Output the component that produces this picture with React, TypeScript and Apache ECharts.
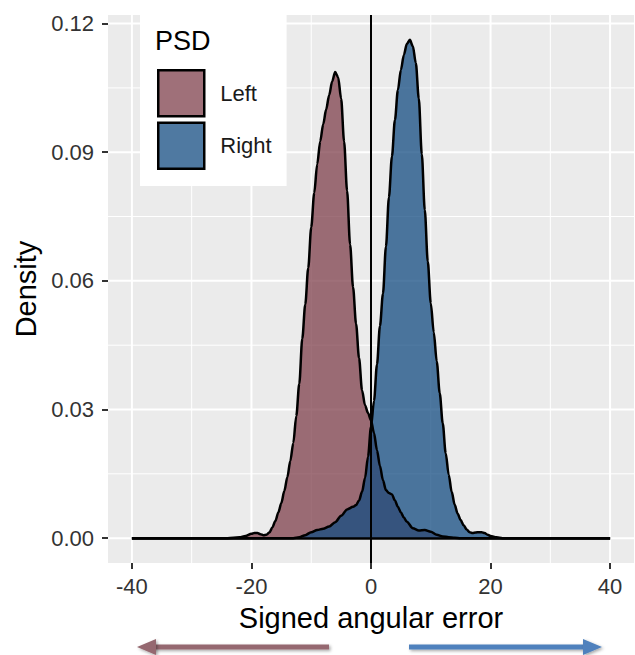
import React, { useEffect, useRef } from 'react';
import * as echarts from 'echarts';

// ---- data ----
const leftX = [-40, -24, -22, -21, -20, -19.5, -19, -18.5, -18, -17.5, -17, -16.5, -16, -15.5, -15, -14.5, -14, -13.5, -13, -12.5, -12, -11.5, -11, -10.5, -10, -9.5, -9, -8.5, -8, -7.5, -7, -6.5, -6, -5.5, -5, -4.5, -4, -3.5, -3, -2.5, -2, -1.5, -1, -0.5, 0, 0.5, 1, 1.5, 2, 2.5, 3, 3.5, 4, 4.5, 5, 5.5, 6, 7, 8, 9, 10, 11, 12, 13, 14, 15, 40];
const leftY = [0, 0, 0.0002, 0.0005, 0.001, 0.0012, 0.0012, 0.0009, 0.0007, 0.0008, 0.0013, 0.0025, 0.004, 0.006, 0.0082, 0.011, 0.0142, 0.018, 0.0222, 0.0285, 0.036, 0.0465, 0.0545, 0.063, 0.0725, 0.0805, 0.0872, 0.0925, 0.0965, 0.1, 0.1033, 0.1065, 0.1087, 0.1075, 0.1025, 0.0925, 0.081, 0.0685, 0.0585, 0.05, 0.042, 0.0345, 0.031, 0.0292, 0.0275, 0.0245, 0.0205, 0.0168, 0.0135, 0.0112, 0.0105, 0.0102, 0.0088, 0.0073, 0.006, 0.0048, 0.0038, 0.0023, 0.0018, 0.0019, 0.0015, 0.0008, 0.0004, 0.0002, 0.0001, 0, 0];

const rightX = [-40, -13, -12, -11, -10, -9, -8, -7, -6, -5, -4, -3, -2.5, -2, -1.5, -1, -0.5, 0, 0.5, 1, 1.5, 2, 2.5, 3, 3.5, 4, 4.5, 5, 5.5, 6, 6.5, 7, 7.5, 8, 8.5, 9, 9.5, 10, 10.5, 11, 11.5, 12, 12.5, 13, 13.5, 14, 14.5, 15, 15.5, 16, 16.5, 17, 17.5, 18, 18.5, 19, 19.5, 20, 21, 22, 40];
const rightY = [0, 0, 0.0002, 0.0007, 0.0014, 0.0019, 0.0022, 0.0027, 0.0037, 0.0052, 0.0067, 0.0073, 0.0077, 0.0088, 0.0108, 0.014, 0.019, 0.026, 0.032, 0.0405, 0.0495, 0.057, 0.068, 0.0795, 0.089, 0.0975, 0.1045, 0.1092, 0.1127, 0.1153, 0.1162, 0.1147, 0.1108, 0.1025, 0.0895, 0.0765, 0.0645, 0.0548, 0.048, 0.0412, 0.0338, 0.0268, 0.0198, 0.0148, 0.0108, 0.0078, 0.0057, 0.0042, 0.003, 0.002, 0.0014, 0.0012, 0.0013, 0.0014, 0.0014, 0.0012, 0.0008, 0.0005, 0.0002, 0, 0];

const seriesNames = ['Left', 'Right'];
const legendTitle = 'PSD';
const xTitle = 'Signed angular error';
const yTitle = 'Density';
const xTicks = [-40, -20, 0, 20, 40];
const xMinor = [-30, -10, 10, 30];
const yTicks = [0, 0.03, 0.06, 0.09, 0.12];
const yMinor = [0.015, 0.045, 0.075, 0.105];
const vlineX = [0];

const FONT = '"Liberation Sans", Arial, sans-serif';
const LEFT_FILL = 'rgba(127,64,76,0.75)';
const RIGHT_FILL = 'rgba(20,76,130,0.75)';
const ARROW_L = '#956870';
const ARROW_R = '#4F81BD';
const SHADOW = { shadowBlur: 3, shadowColor: 'rgba(0,0,0,0.35)', shadowOffsetX: 1.5, shadowOffsetY: 1.5 };

export default function App() {
  const ref = useRef<HTMLDivElement>(null);

  useEffect(() => {
    document.body.style.margin = '0';
    const chart = echarts.init(ref.current!, null, { renderer: 'svg' });

    const vRender = (w: number, color: string) => (params: any, api: any) => {
      const cs = params.coordSys;
      const px = api.coord([api.value(0), 0])[0];
      return {
        type: 'line',
        shape: { x1: px, y1: cs.y, x2: px, y2: cs.y + cs.height },
        style: { stroke: color, lineWidth: w },
      };
    };
    const hRender = (w: number, color: string) => (params: any, api: any) => {
      const cs = params.coordSys;
      const py = api.coord([0, api.value(1)])[1];
      return {
        type: 'line',
        shape: { x1: cs.x, y1: py, x2: cs.x + cs.width, y2: py },
        style: { stroke: color, lineWidth: w },
      };
    };
    const gridSeries = (name: string, data: number[][], render: any, z: number) => ({
      name,
      type: 'custom',
      data,
      encode: { x: 0, y: 1 },
      renderItem: render,
      silent: true,
      clip: false,
      z,
    });

    const xStart = Math.min(leftX[0], rightX[0]);
    const xEnd = Math.max(leftX[leftX.length - 1], rightX[rightX.length - 1]);

    const option: any = {
      animation: false,
      grid: {
        left: 108,
        right: 1,
        top: 15,
        bottom: 92,
        show: true,
        backgroundColor: '#EBEBEB',
        borderWidth: 0,
      },
      xAxis: {
        type: 'value',
        min: -44,
        max: 44,
        axisLine: { show: false, onZero: false },
        splitLine: { show: false },
        axisTick: { show: true, length: 6, customValues: xTicks, lineStyle: { color: '#333', width: 2 } },
        axisLabel: { customValues: xTicks, margin: 12, fontSize: 22, color: '#333', fontFamily: FONT },
        name: xTitle,
        nameLocation: 'middle',
        nameGap: 40,
        nameTextStyle: { fontSize: 29, color: '#000', fontFamily: FONT },
      },
      yAxis: {
        type: 'value',
        min: -0.0058,
        max: 0.122,
        axisLine: { show: false, onZero: false },
        splitLine: { show: false },
        axisTick: { show: true, length: 6, customValues: yTicks, lineStyle: { color: '#333', width: 2 } },
        axisLabel: {
          customValues: yTicks,
          margin: 14,
          fontSize: 22,
          color: '#333',
          fontFamily: FONT,
          formatter: (v: number) => v.toFixed(2),
        },
        name: yTitle,
        nameLocation: 'middle',
        nameGap: 60,
        nameTextStyle: { fontSize: 29, color: '#000', fontFamily: FONT },
      },
      legend: {
        orient: 'vertical',
        left: 140,
        top: 14,
        padding: [55, 15, 16, 17],
        backgroundColor: '#ffffff',
        itemWidth: 46,
        itemHeight: 46,
        itemGap: 4,
        icon: 'rect',
        selectedMode: false,
        z: 20,
        textStyle: { fontSize: 22, color: '#1a1a1a', fontFamily: FONT, padding: [0, 0, 0, 11] },
        data: [
          { name: seriesNames[0], itemStyle: { color: LEFT_FILL, borderColor: '#000', borderWidth: 2.5 } },
          { name: seriesNames[1], itemStyle: { color: RIGHT_FILL, borderColor: '#000', borderWidth: 2.5 } },
        ],
      },
      graphic: [
        {
          type: 'text',
          x: 155,
          y: 41,
          z: 100,
          style: { text: legendTitle, fontSize: 27, fill: '#000', fontFamily: FONT, verticalAlign: 'middle' },
        },
        {
          type: 'rect',
          shape: { x: 152, y: 644.5, width: 177, height: 5 },
          style: { fill: ARROW_L, ...SHADOW },
        },
        {
          type: 'polygon',
          shape: { points: [[137, 647], [156, 639], [156, 655]] },
          style: { fill: ARROW_L, ...SHADOW },
        },
        {
          type: 'rect',
          shape: { x: 409, y: 644.5, width: 178, height: 5 },
          style: { fill: ARROW_R, ...SHADOW },
        },
        {
          type: 'polygon',
          shape: { points: [[602, 647], [583, 639], [583, 655]] },
          style: { fill: ARROW_R, ...SHADOW },
        },
      ],
      series: [
        gridSeries('gridMinorX', xMinor.map((v) => [v, 0]), vRender(1, '#FFFFFF'), 1),
        gridSeries('gridMinorY', yMinor.map((v) => [0, v]), hRender(1, '#FFFFFF'), 1),
        gridSeries('gridMajorX', xTicks.map((v) => [v, 0]), vRender(2, '#FFFFFF'), 1),
        gridSeries('gridMajorY', yTicks.map((v) => [0, v]), hRender(2, '#FFFFFF'), 1),
        {
          name: seriesNames[0],
          type: 'line',
          data: leftX.map((x, i) => [x, leftY[i]]),
          symbol: 'none',
          smooth: 0.3,
          smoothMonotone: 'x',
          lineStyle: { color: '#000', width: 2.5 },
          itemStyle: { color: LEFT_FILL },
          areaStyle: { color: LEFT_FILL, opacity: 1 },
          emphasis: { disabled: true },
          silent: true,
          z: 2,
        },
        {
          name: seriesNames[1],
          type: 'line',
          data: rightX.map((x, i) => [x, rightY[i]]),
          symbol: 'none',
          smooth: 0.3,
          smoothMonotone: 'x',
          lineStyle: { color: '#000', width: 2.5 },
          itemStyle: { color: RIGHT_FILL },
          areaStyle: { color: RIGHT_FILL, opacity: 1 },
          emphasis: { disabled: true },
          silent: true,
          z: 2,
          markLine: {
            silent: true,
            symbol: 'none',
            label: { show: false },
            lineStyle: { color: '#000', width: 2.5, type: 'solid' },
            data: [[{ coord: [xStart, 0] }, { coord: [xEnd, 0] }]],
          },
        },
        gridSeries('vline', vlineX.map((v) => [v, 0]), vRender(2, '#000000'), 6),
      ],
    };

    chart.setOption(option);
    return () => chart.dispose();
  }, []);

  return <div ref={ref} style={{ width: 635, height: 655 }} />;
}
